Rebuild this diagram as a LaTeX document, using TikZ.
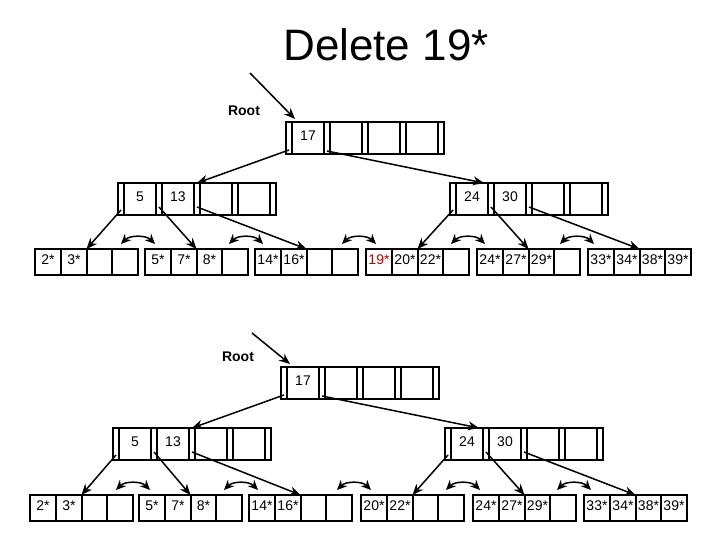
\documentclass[tikz,border=0pt]{standalone}
\usepackage{fontspec}
\setmainfont{Liberation Sans}
\usetikzlibrary{calc,arrows.meta}
\tikzset{
 box/.style={draw,line width=1.8pt,inner sep=0,outer sep=0,anchor=north west},
 ibox/.style={box,minimum width=158pt,minimum height=32pt},
 lbox/.style={box,minimum width=103pt,minimum height=26pt},
 lbl/.style={font=\fontsize{14}{16}\selectfont,inner sep=0},
 ptr/.style={line width=1.5pt,-{Stealth[length=11pt,width=9pt]}},
 sib/.style={line width=1.5pt,{Stealth[length=10pt,width=9pt]}-{Stealth[length=10pt,width=9pt]}},
}
\newcommand\idxnode[5]{%
 \node[ibox] (#1) at (#2,#3) {};
 \foreach \o in {6,38,44,76,82,114,120,152}
   \draw[line width=1.5pt] ($(#1.north west)+(\o,0)$) -- ($(#1.south west)+(\o,0)$);
 \node[lbl] (#1k1) at ($(#1.north west)+(22,14)$) {#4};
 \node[lbl] (#1k2) at ($(#1.north west)+(60,14)$) {#5};
}
\newcommand\leafnode[7]{%
 \node[lbox] (#1) at (#2,#3) {};
 \foreach \o in {26,52,77}
   \draw[line width=1.5pt] ($(#1.north west)+(\o,0)$) -- ($(#1.south west)+(\o,0)$);
 \node[lbl] (#1a) at ($(#1.north west)+(13,11)$) {#4};
 \node[lbl] (#1b) at ($(#1.north west)+(39,11)$) {#5};
 \node[lbl] (#1c) at ($(#1.north west)+(64.5,11)$) {#6};
 \node[lbl] (#1d) at ($(#1.north west)+(90,11)$) {#7};
}
\newcommand\sibarc[3]{%
 \coordinate (#1l) at (#2-17,#3);
 \coordinate (#1r) at (#2+17,#3);
 \draw[sib] (#1l) .. controls (#2-8,#3-9) and (#2+8,#3-9) .. (#1r);
}
\begin{document}
\begin{tikzpicture}[x=1pt,y=-1pt]
\useasboundingbox (0,0) rectangle (720,540);
\node[font=\fontsize{44}{50}\selectfont] (title) at (386,45) {Delete 19*};
% ---------- top tree
\node[font=\bfseries\fontsize{14}{16}\selectfont] (rootA) at (244,111) {Root};
\coordinate (rsA) at (250,73);
\idxnode{RA}{286}{122}{17}{}
\idxnode{LA}{118}{183}{5}{13}
\idxnode{QA}{450}{183}{24}{30}
\draw[ptr] (rsA) -- ($(RA.north west)+(9,-3)$);
\leafnode{A1}{35}{249}{2*}{3*}{}{}
\leafnode{A2}{145}{249}{5*}{7*}{8*}{}
\leafnode{A3}{255}{249}{14*}{16*}{}{}
\leafnode{A4}{366}{249}{\textcolor{red!75!black}{19*}}{20*}{22*}{}
\leafnode{A5}{477}{249}{24*}{27*}{29*}{}
\leafnode{A6}{588}{249}{33*}{34*}{38*}{39*}
\draw[ptr] ($(RA.south west)+(3,-4)$) -- (LA.north);
\draw[ptr] ($(RA.south west)+(41,-3)$) -- ($(QA.north west)+(34,0)$);
\draw[ptr] ($(LA.south west)+(3,-5)$) -- (A1.north);
\draw[ptr] ($(LA.south west)+(41,-8)$) -- (A2.north);
\draw[ptr] ($(LA.south west)+(79,-8)$) -- (A3.north);
\draw[ptr] ($(QA.south west)+(3,-5)$) -- (A4.north);
\draw[ptr] ($(QA.south west)+(41,-8)$) -- (A5.north);
\draw[ptr] ($(QA.south west)+(79,-8)$) -- (A6.north);
\sibarc{sa1}{138}{244}
\sibarc{sa2}{246}{244}
\sibarc{sa3}{359}{244}
\sibarc{sa4}{468}{244}
\sibarc{sa5}{577}{244}
% ---------- bottom tree
\node[font=\bfseries\fontsize{14}{16}\selectfont] (rootB) at (238,357) {Root};
\coordinate (rsB) at (252,333);
\idxnode{RB}{281}{367}{17}{}
\idxnode{LB}{113}{428}{5}{13}
\idxnode{QB}{445}{428}{24}{30}
\draw[ptr] (rsB) -- ($(RB.north west)+(9,-3)$);
\leafnode{B1}{30}{495}{2*}{3*}{}{}
\leafnode{B2}{139}{495}{5*}{7*}{8*}{}
\leafnode{B3}{249}{495}{14*}{16*}{}{}
\leafnode{B4}{361}{495}{20*}{22*}{}{}
\leafnode{B5}{473}{495}{24*}{27*}{29*}{}
\leafnode{B6}{584}{495}{33*}{34*}{38*}{39*}
\draw[ptr] ($(RB.south west)+(3,-4)$) -- (LB.north);
\draw[ptr] ($(RB.south west)+(41,-3)$) -- ($(QB.north west)+(34,0)$);
\draw[ptr] ($(LB.south west)+(3,-5)$) -- (B1.north);
\draw[ptr] ($(LB.south west)+(41,-8)$) -- (B2.north);
\draw[ptr] ($(LB.south west)+(79,-8)$) -- (B3.north);
\draw[ptr] ($(QB.south west)+(3,-5)$) -- (B4.north);
\draw[ptr] ($(QB.south west)+(41,-8)$) -- (B5.north);
\draw[ptr] ($(QB.south west)+(79,-8)$) -- (B6.north);
\sibarc{sb1}{133}{490}
\sibarc{sb2}{241}{490}
\sibarc{sb3}{354}{490}
\sibarc{sb4}{463}{490}
\sibarc{sb5}{574}{490}
\end{tikzpicture}
\end{document}
